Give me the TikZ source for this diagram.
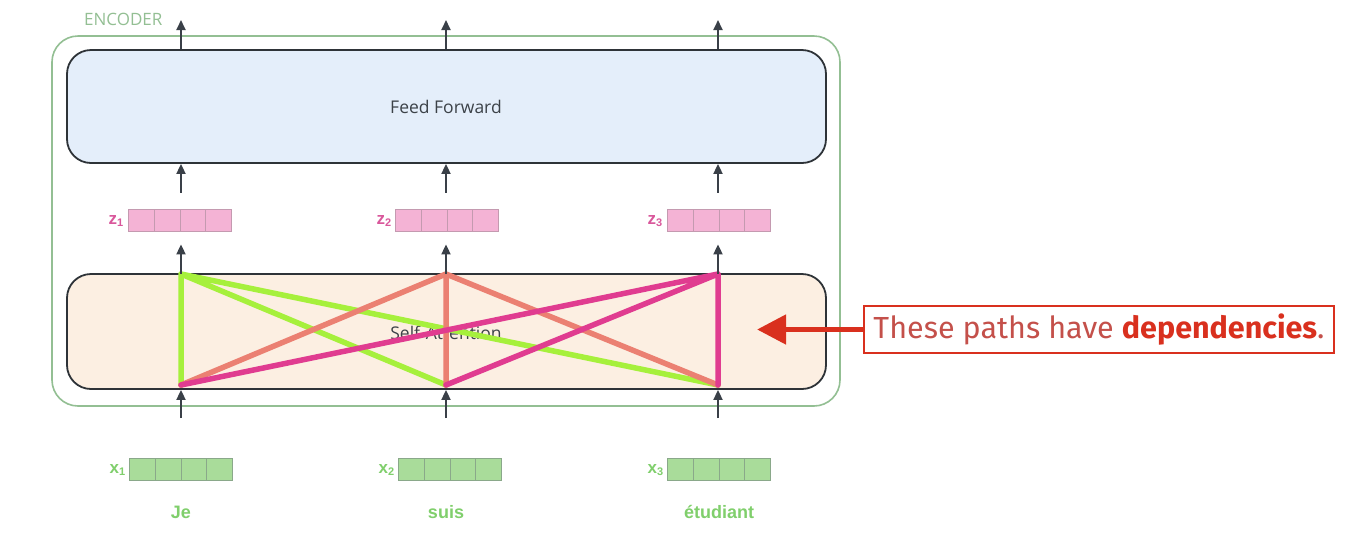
\documentclass[tikz,border=0pt]{standalone}
\usepackage{fontspec}
\setmainfont{Open Sans}
\newfontfamily\labelfont{Liberation Sans}
\newfontfamily\notefont{Fira Sans}
\usetikzlibrary{calc,arrows.meta}
\definecolor{encgreen}{HTML}{93BF93}
\definecolor{fffill}{HTML}{E4EEFA}
\definecolor{safill}{HTML}{FCEFE2}
\definecolor{boxline}{HTML}{2E3338}
\definecolor{arrowgray}{HTML}{3A4048}
\definecolor{zfill}{HTML}{F4B3D5}
\definecolor{zline}{HTML}{C49AB0}
\definecolor{xfill}{HTML}{A9DC9A}
\definecolor{xline}{HTML}{8AA88A}
\definecolor{zlabel}{HTML}{D9579B}
\definecolor{xlabel}{HTML}{80CF6C}
\definecolor{lime}{HTML}{A6F03C}
\definecolor{salmon}{HTML}{EB8072}
\definecolor{magenta2}{HTML}{E03C90}
\definecolor{notered}{HTML}{D9301E}
\definecolor{notetext}{HTML}{C4504A}
\definecolor{titletext}{HTML}{3C4248}
\tikzset{
  layerbox/.style={draw=boxline, line width=1.8pt, rounded corners=24pt, inner sep=0pt},
  vecbox/.style={minimum width=103pt, minimum height=22pt, inner sep=0pt, line width=0.8pt,
    path picture={
      \foreach \i in {1,2,3}
        \draw[line width=0.8pt, draw=#1]
          ($(path picture bounding box.north west)!\i/4!(path picture bounding box.north east)$) --
          ($(path picture bounding box.south west)!\i/4!(path picture bounding box.south east)$);
    }},
  zvec/.style={vecbox=zline, draw=zline, fill=zfill},
  xvec/.style={vecbox=xline, draw=xline, fill=xfill},
  zlab/.style={font=\labelfont\bfseries\fontsize{17}{17}\selectfont, text=zlabel, anchor=east, inner sep=0pt},
  xlab/.style={font=\labelfont\bfseries\fontsize{17}{17}\selectfont, text=xlabel, anchor=east, inner sep=0pt},
  word/.style={font=\labelfont\bfseries\fontsize{18}{18}\selectfont, text=xlabel},
  flow/.style={draw=arrowgray, line width=1.8pt, -{Triangle[length=10pt, width=9pt]}},
  attn/.style={line width=5.5pt, line cap=round, line join=round},
  title/.style={text=titletext, font=\fontsize{17.5}{17.5}\selectfont},
}
\newcommand{\vsub}[1]{\textsubscript{\fontsize{11}{11}\selectfont #1}}
\begin{document}
\begin{tikzpicture}[x=1pt, y=-1pt]
\useasboundingbox[fill=white] (0,0) rectangle (1360,542);

% encoder frame and title
\node[draw=encgreen, line width=1.6pt, rounded corners=26pt, minimum width=788pt, minimum height=370pt] (enc) at (446,221) {};
\node[text=encgreen, font=\fontsize{17}{17}\selectfont, anchor=west, inner sep=0pt] (enctitle) at (84,19) {ENCODER};

% the two sub-layers
\node[layerbox, fill=fffill, minimum width=759pt, minimum height=113pt] (ff) at (446.5,106.5) {};
\node[title] (fflabel) at (446,107) {Feed Forward};
\node[layerbox, fill=safill, minimum width=759pt, minimum height=115pt] (sa) at (446.5,331.5) {};
\node[title] (salabel) at (446,333) {Self-Attention};

% column end points of the attention paths
\coordinate (a top) at (181,274);  \coordinate (a bot) at (181,385);
\coordinate (b top) at (446,274);  \coordinate (b bot) at (446,385);
\coordinate (c top) at (718,274);  \coordinate (c bot) at (718,385);
\coordinate (a in) at (181,418);   \coordinate (a out) at (181,20);
\coordinate (b in) at (446,418);   \coordinate (b out) at (446,20);
\coordinate (c in) at (718,418);   \coordinate (c out) at (718,20);

% attention paths (top of each column to bottom of each column)
\draw[attn, lime] (a top) -- (a bot) (a top) -- (b bot) (a top) -- (c bot);
\draw[attn, salmon] (b top) -- (a bot) (b top) -- (b bot) (b top) -- (c bot);
\draw[attn, magenta2] (c top) -- (a bot) (c top) -- (b bot) (c top) -- (c bot);

% output vectors z
\node[zvec] (z1) at (180,220) {};
\node[zvec] (z2) at (447,220) {};
\node[zvec] (z3) at (719,220) {};
\node[zlab] (z1l) at (124,221) {z\vsub{1}};
\node[zlab] (z2l) at (392,221) {z\vsub{2}};
\node[zlab] (z3l) at (663,221) {z\vsub{3}};

% input vectors x and words
\node[xvec] (x1) at (181,469) {};
\node[xvec] (x2) at (450,469) {};
\node[xvec] (x3) at (719,469) {};
\node[xlab] (x1l) at (126,470) {x\vsub{1}};
\node[xlab] (x2l) at (395,470) {x\vsub{2}};
\node[xlab] (x3l) at (664,470) {x\vsub{3}};
\node[word] (w1) at (181,512) {Je};
\node[word] (w2) at (446,512) {suis};
\node[word] (w3) at (719,512) {étudiant};

% data flow arrows
\foreach \n/\z in {a/z1, b/z2, c/z3} {
  \draw[flow] (\n\space in) -- (\n\space in |- sa.south);
  \draw[flow, shorten >=13pt] (\n\space top) -- (\n\space top |- \z.south);
  \draw[flow, shorten <=16pt] (\n\space top |- \z.north) -- (\n\space top |- ff.south);
  \draw[flow] (\n\space top |- ff.north) -- (\n\space out);
}

% note
\node[draw=notered, line width=1.8pt, fill=white, minimum width=470pt, minimum height=47pt, inner sep=0pt] (note) at (1099,329.5)
  {\notefont\fontsize{30.5}{30.5}\selectfont\textcolor{notetext}{These paths have }\textcolor{notered}{\bfseries dependencies}\textcolor{notetext}{.}};
\draw[notered, line width=5pt, -{Triangle[length=29pt, width=29pt]}] (note.west) -- ++(-106,0) coordinate (notetip);
\end{tikzpicture}
\end{document}
